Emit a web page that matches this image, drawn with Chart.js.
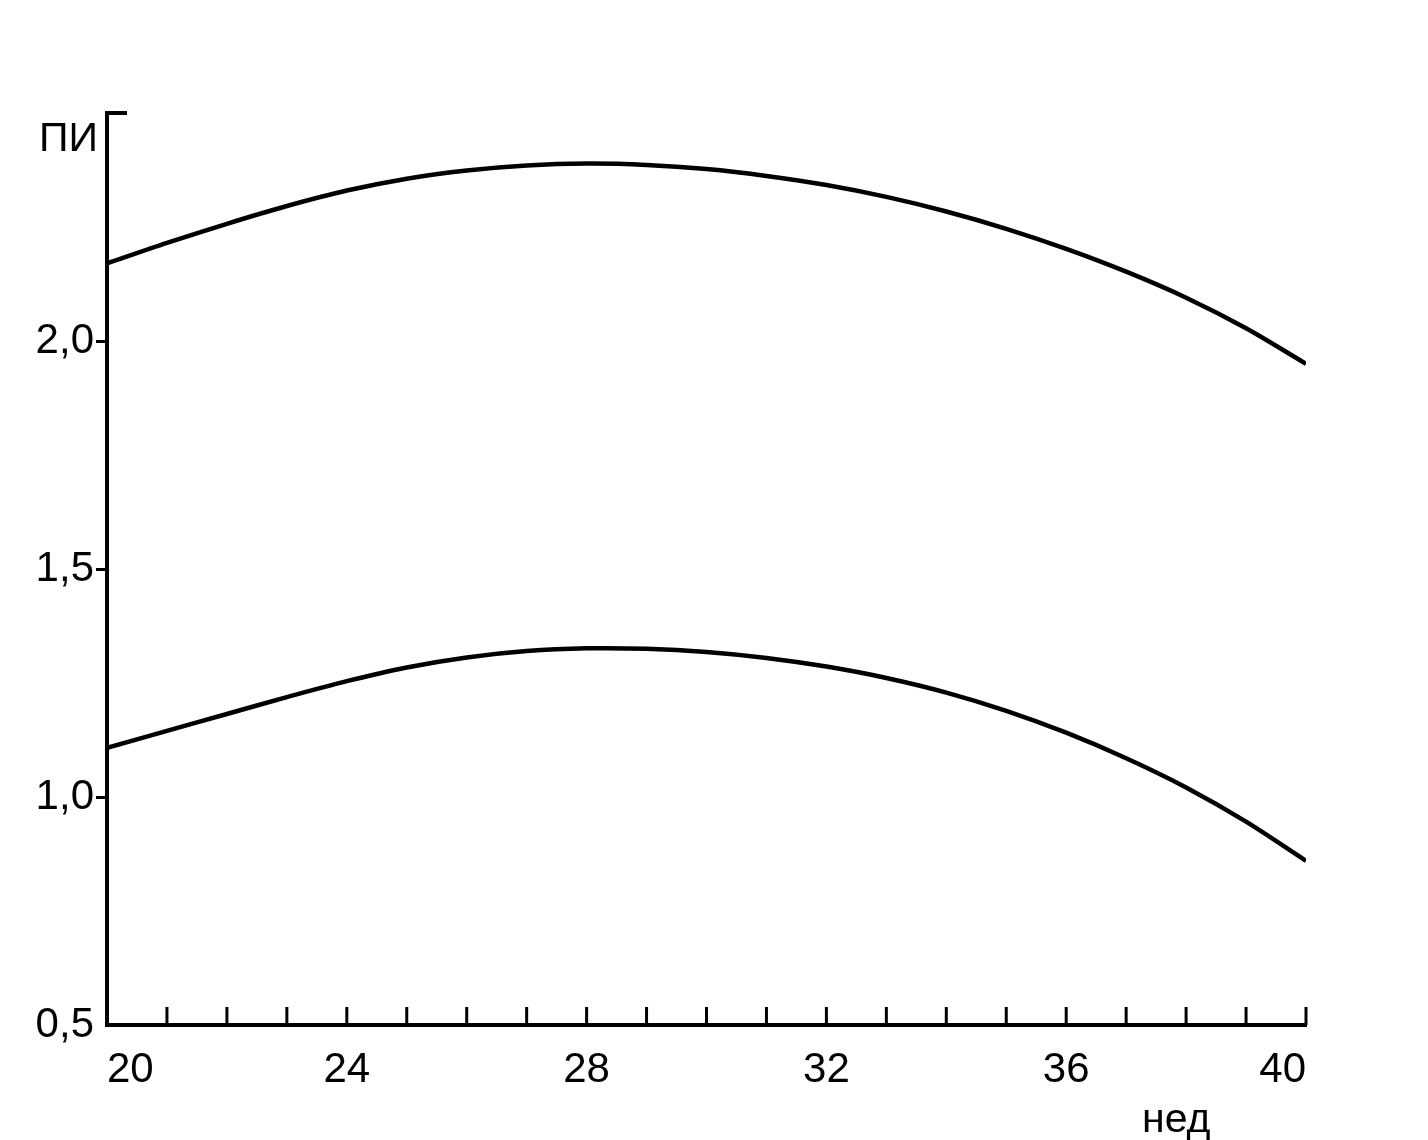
<!DOCTYPE html>
<html>
<head>
<meta charset="utf-8">
<script src="https://cdn.jsdelivr.net/npm/chart.js@4"></script>
<style>
  html, body { margin: 0; padding: 0; background: #fff; }
  #c { display: block; }
</style>
</head>
<body>
<canvas id="c" width="1428" height="1140"></canvas>
<script>
// Gestational age, weeks
const weeks = [20,21,22,23,24,25,26,27,28,29,30,31,32,33,34,35,36,37,38,39,40];
// Upper curve (PI)
const upperPI = [2.170,2.215,2.257,2.296,2.330,2.356,2.374,2.385,2.389,2.386,2.377,2.362,2.342,2.316,2.284,2.246,2.202,2.152,2.095,2.028,1.950];
// Lower curve (PI)
const lowerPI = [1.108,1.145,1.182,1.219,1.254,1.284,1.306,1.320,1.326,1.325,1.318,1.305,1.286,1.261,1.229,1.189,1.141,1.085,1.021,0.946,0.860];
// Tick labels
const xLabelWeeks = [20,24,28,32,36,40];
const yTickValues = [0.5,1.0,1.5,2.0];
const yAxisTitle = 'ПИ';
const xAxisTitle = 'нед';

const FONT = "'Liberation Sans', Arial, Helvetica, sans-serif";

const axisExtras = {
  id: 'axisExtras',
  afterDraw(chart) {
    const ctx = chart.ctx;
    const xs = chart.scales.x, ys = chart.scales.y;
    const yBottom = ys.getPixelForValue(0.5);
    const xLeft = xs.getPixelForValue(20);
    ctx.save();
    ctx.strokeStyle = '#000';
    ctx.lineCap = 'butt';
    // inward week ticks on x-axis
    ctx.lineWidth = 3;
    for (const w of weeks) {
      if (w === 20) continue;
      const px = xs.getPixelForValue(w);
      ctx.beginPath();
      ctx.moveTo(px, yBottom);
      ctx.lineTo(px, yBottom - 18);
      ctx.stroke();
    }
    // stub at top of y-axis
    const yTop = ys.getPixelForValue(2.5);
    ctx.lineWidth = 4;
    ctx.beginPath();
    ctx.moveTo(xLeft - 2, yTop);
    ctx.lineTo(xLeft + 20, yTop);
    ctx.stroke();
    // axis titles
    ctx.fillStyle = '#000';
    ctx.font = '41px ' + FONT;
    ctx.textAlign = 'right';
    ctx.textBaseline = 'alphabetic';
    ctx.fillText(yAxisTitle, 98, 151);
    ctx.textAlign = 'left';
    ctx.fillText(xAxisTitle, 1142, 1132);
    ctx.restore();
  }
};

new Chart(document.getElementById('c'), {
  type: 'line',
  data: {
    datasets: [
      { data: weeks.map((w, i) => ({ x: w, y: upperPI[i] })), borderColor: '#000', borderWidth: 4.5, pointRadius: 0, tension: 0.3, fill: false },
      { data: weeks.map((w, i) => ({ x: w, y: lowerPI[i] })), borderColor: '#000', borderWidth: 4.5, pointRadius: 0, tension: 0.3, fill: false }
    ]
  },
  options: {
    responsive: false,
    animation: false,
    layout: { padding: { top: 113, right: 122, left: 0, bottom: 0 } },
    plugins: { legend: { display: false }, tooltip: { enabled: false }, title: { display: false } },
    scales: {
      x: {
        type: 'linear',
        min: 20, max: 40,
        afterFit(scale) { scale.height = 115; },
        afterBuildTicks(scale) { scale.ticks = weeks.map(v => ({ value: v })); },
        ticks: {
          autoSkip: false, maxRotation: 0, minRotation: 0,
          align: 'inner',
          color: '#000',
          padding: 20,
          font: { family: FONT, size: 42 },
          callback: (v) => xLabelWeeks.includes(v) ? String(v) : ''
        },
        grid: { display: true, drawOnChartArea: false, drawTicks: false, color: 'rgba(0,0,0,0)' },
        border: { display: true, color: '#000', width: 4 }
      },
      y: {
        type: 'linear',
        min: 0.5, max: 2.5,
        afterFit(scale) { scale.width = 107; },
        afterBuildTicks(scale) { scale.ticks = yTickValues.concat([2.5]).map(v => ({ value: v })); },
        ticks: {
          color: '#000',
          padding: 2,
          font: { family: FONT, size: 42 },
          callback: (v) => yTickValues.includes(v) ? v.toFixed(1).replace('.', ',') : ''
        },
        grid: {
          drawOnChartArea: false, drawTicks: true, tickLength: 11, lineWidth: 3,
          color: (c) => (c.tick && (c.tick.value === 2.0 || c.tick.value === 1.5 || c.tick.value === 1.0)) ? '#000' : 'rgba(0,0,0,0)'
        },
        border: { display: true, color: '#000', width: 4 }
      }
    }
  },
  plugins: [axisExtras]
});
</script>
</body>
</html>
